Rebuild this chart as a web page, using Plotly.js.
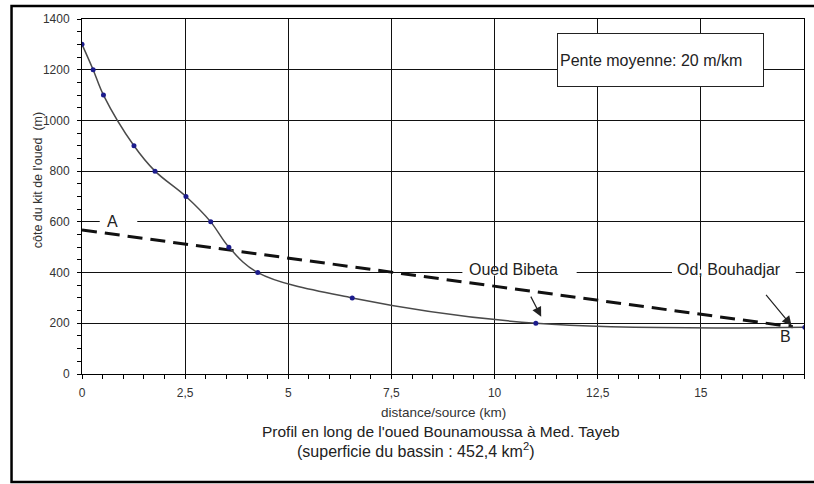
<!DOCTYPE html>
<html>
<head>
<meta charset="utf-8">
<script src="https://cdn.plot.ly/plotly-3.0.1.min.js"></script>
<style>
html,body{margin:0;padding:0;background:#fff;}
#chart{width:814px;height:484px;}
</style>
</head>
<body>
<div id="chart"></div>
<script>
// Profile data (distance from source in km, elevation in m)
const distanceKm = [0, 0.27, 0.52, 1.26, 1.77, 2.52, 3.12, 3.56, 4.26, 6.55, 11.0, 17.52];
const elevationM = [1300, 1200, 1100, 900, 800, 700, 600, 500, 400, 300, 200, 184];

// Mean slope line A -> B
const slopeX = [0, 17.23];
const slopeY = [568, 186];

// Tick labels
const xTickVals = [0, 2.5, 5, 7.5, 10, 12.5, 15, 17.5];
const xTickText = ["0", "2,5", "5", "7,5", "10", "12,5", "15", "17,5"];
const yTickVals = [0, 200, 400, 600, 800, 1000, 1200, 1400];
const yTickText = ["0", "200", "400", "600", "800", "1000", "1200", "1400"];

const FONT = "Liberation Sans, Arial, sans-serif";

const traces = [
  {
    x: slopeX, y: slopeY, mode: "lines", type: "scatter",
    line: {color: "#111", width: 3, dash: "15px,8px"},
    hoverinfo: "skip"
  },
  {
    x: distanceKm, y: elevationM, mode: "lines+markers", type: "scatter",
    line: {color: "#4a4a4a", width: 1.5, shape: "spline", smoothing: 1},
    marker: {color: "#1c1c8c", size: 5},
    hoverinfo: "skip"
  }
];

const axisCommon = {
  showline: true, linecolor: "#000", linewidth: 1, mirror: true,
  showgrid: true, gridcolor: "#111", gridwidth: 1,
  zeroline: false, ticks: "outside", ticklen: 4, tickcolor: "#000",
  tickfont: {family: FONT, size: 12, color: "#333"},
  tickmode: "array", fixedrange: true
};

const layout = {
  width: 814, height: 484,
  margin: {l: 82, r: 10, t: 19, b: 110},
  paper_bgcolor: "#fff", plot_bgcolor: "#fff",
  showlegend: false,
  font: {family: FONT, color: "#222"},
  xaxis: Object.assign({}, axisCommon, {
    range: [0, 17.5], tickvals: xTickVals, ticktext: xTickText,
    ticklabelstandoff: 4,
    minor: {tick0: 0, dtick: 0.5, ticks: "outside", ticklen: 4, tickcolor: "#000", showgrid: false}
  }),
  yaxis: Object.assign({}, axisCommon, {
    range: [0, 1400], tickvals: yTickVals, ticktext: yTickText,
    ticklabelstandoff: 5,
    minor: {tick0: 0, dtick: 50, ticks: "outside", ticklen: 4, tickcolor: "#000", showgrid: false}
  }),
  shapes: [
    // white gaps in gridlines behind labels
    {type: "rect", xref: "x", yref: "y", x0: 0.43, x1: 1.34, y0: 585, y1: 615, fillcolor: "#fff", line: {width: 0}, layer: "between"},
    {type: "rect", xref: "x", yref: "y", x0: 9.22, x1: 11.99, y0: 388, y1: 412, fillcolor: "#fff", line: {width: 0}, layer: "between"},
    {type: "rect", xref: "x", yref: "y", x0: 14.3, x1: 17.3, y0: 388, y1: 412, fillcolor: "#fff", line: {width: 0}, layer: "between"},
    // outer frame
    {type: "rect", xref: "paper", yref: "paper", x0: -0.0976, x1: 1.04, y0: -0.3042, y1: 1.0366,
     line: {color: "#000", width: 2.5}, fillcolor: "rgba(0,0,0,0)", layer: "above"}
  ],
  annotations: [
    {xref: "x", yref: "y", x: 0.74, y: 600, text: "A", showarrow: false,
     font: {family: FONT, size: 16, color: "#222"}},
    {xref: "x", yref: "y", x: 17.05, y: 146, text: "B", showarrow: false,
     font: {family: FONT, size: 16, color: "#222"}},
    {xref: "x", yref: "y", x: 10.45, y: 414, text: "Oued Bibeta", showarrow: false,
     font: {family: FONT, size: 16, color: "#222"}},
    {xref: "x", yref: "y", x: 15.68, y: 414, text: "Od, Bouhadjar", showarrow: false,
     font: {family: FONT, size: 16, color: "#222"}},
    {xref: "x", yref: "y", axref: "x", ayref: "y", x: 11.13, y: 226, ax: 10.86, ay: 311,
     text: "", showarrow: true, arrowhead: 2, arrowsize: 1.6, arrowwidth: 1.2, arrowcolor: "#222"},
    {xref: "x", yref: "y", axref: "x", ayref: "y", x: 17.2, y: 190, ax: 16.55, ay: 318,
     text: "", showarrow: true, arrowhead: 2, arrowsize: 1.6, arrowwidth: 1.2, arrowcolor: "#222"},
    {xref: "x", yref: "y", x: 14.02, y: 1238, text: "Pente moyenne: 20 m/km", showarrow: false,
     width: 201, height: 48, align: "left", valign: "middle",
     bgcolor: "#fff", bordercolor: "#222", borderwidth: 1, borderpad: 2,
     font: {family: FONT, size: 16, color: "#222"}},
    {xref: "paper", yref: "paper", x: -0.073, y: 0.5465, text: "côte du kit de l'oued  (m)",
     textangle: -90, showarrow: false, font: {family: FONT, size: 12.5, color: "#333"}},
    {xref: "paper", yref: "paper", x: 0.5, y: -0.135, text: "distance/source (km)",
     showarrow: false, font: {family: FONT, size: 13.5, color: "#333"}},
    {xref: "paper", yref: "paper", x: 0.497, y: -0.1915,
     text: "Profil en long de l'oued Bounamoussa à Med. Tayeb",
     showarrow: false, font: {family: FONT, size: 15.5, color: "#222"}},
    {xref: "paper", yref: "paper", x: 0.4626, y: -0.248,
     text: "(superficie du bassin : 452,4 km<sup>2</sup>)",
     showarrow: false, font: {family: FONT, size: 16, color: "#222"}}
  ]
};

Plotly.newPlot("chart", traces, layout, {staticPlot: true, displayModeBar: false});
</script>
</body>
</html>
